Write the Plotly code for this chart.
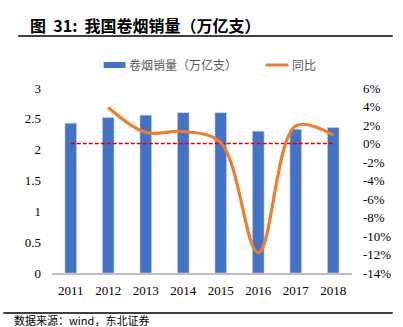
import plotly.graph_objects as go

years = ["2011", "2012", "2013", "2014", "2015", "2016", "2017", "2018"]
sales = [2.43, 2.52, 2.56, 2.60, 2.60, 2.30, 2.33, 2.36]
yoy_years = ["2012", "2013", "2014", "2015", "2016", "2017", "2018"]
yoy = [3.9, 1.2, 1.3, 0.1, -11.8, 1.9, 0.9]
zero_line = [0, 0, 0, 0, 0, 0, 0, 0]
left_ticks = [0, 0.5, 1, 1.5, 2, 2.5, 3]
left_labels = ["0", "0.5", "1", "1.5", "2", "2.5", "3"]
right_ticks = [-14, -12, -10, -8, -6, -4, -2, 0, 2, 4, 6]
right_labels = [f"{v}%" for v in right_ticks]

title = "图  31:  我国卷烟销量（万亿支）"
legend_bar = "卷烟销量（万亿支）"
legend_line = "同比"
source = "数据来源：wind，东北证券"

BLUE = "#4472C4"
ORANGE = "#ED7D31"
SERIF = "Liberation Serif, Times New Roman, serif"
CJK = "Noto Sans CJK SC"

fig = go.Figure()
fig.add_trace(go.Bar(x=years, y=sales, marker=dict(color=BLUE, line=dict(width=0.6, color="#c9d3e6")),
                     width=0.31, showlegend=False, yaxis="y"))
fig.add_trace(go.Scatter(x=years, y=zero_line, mode="lines", yaxis="y2", showlegend=False,
                         line=dict(color="#E00000", width=1.3, dash="4px,2px")))
fig.add_trace(go.Scatter(x=yoy_years, y=yoy, mode="lines", yaxis="y2", showlegend=False,
                         line=dict(color=ORANGE, width=3.2, shape="spline", smoothing=1.0)))

fig.update_layout(
    width=403, height=327,
    margin=dict(l=52, r=49, t=88, b=54),
    paper_bgcolor="white", plot_bgcolor="white",
    xaxis=dict(type="category", range=[-0.5, 7.5], showline=True, linecolor="#BFBFBF", linewidth=2,
               showgrid=False, ticks="", tickfont=dict(family=SERIF, size=13, color="#000"),
               ticklabelstandoff=4),
    yaxis=dict(range=[0, 3], tickvals=left_ticks, ticktext=left_labels, showgrid=False, zeroline=False,
               showline=False, ticks="", tickfont=dict(family=SERIF, size=13, color="#000"),
               ticklabelstandoff=10),
    yaxis2=dict(range=[-14, 6], overlaying="y", side="right", tickvals=right_ticks, ticktext=right_labels,
                showgrid=False, zeroline=False, showline=False, ticks="",
                tickfont=dict(family=SERIF, size=13, color="#000"), ticklabelstandoff=10),
    bargap=0.7,
)

shapes = [
    dict(type="line", xref="paper", yref="paper", x0=-34/302, x1=(395-52)/302,
         y0=(327-54-36)/185, y1=(327-54-36)/185, line=dict(color="#000", width=1.5)),
    dict(type="line", xref="paper", yref="paper", x0=(3-52)/302, x1=(395-52)/302,
         y0=(273-313)/185, y1=(273-313)/185, line=dict(color="#000", width=1.5)),
    dict(type="rect", xref="paper", yref="paper", x0=(104-52)/302, x1=(126-52)/302,
         y0=(273-68)/185, y1=(273-62)/185, fillcolor=BLUE, line=dict(width=0)),
    dict(type="line", xref="paper", yref="paper", x0=(267-52)/302, x1=(290-52)/302,
         y0=(273-65)/185, y1=(273-65)/185, line=dict(color=ORANGE, width=3)),
]
fig.update_layout(shapes=shapes)

annotations = [
    dict(text=f"<b>{title}</b>", xref="paper", yref="paper", x=(28-52)/302, y=(273-25)/185,
         xanchor="left", yanchor="middle", showarrow=False, font=dict(family=CJK, size=16, color="#000")),
    dict(text=legend_bar, xref="paper", yref="paper", x=(128-52)/302, y=(273-65)/185,
         xanchor="left", yanchor="middle", showarrow=False, font=dict(family=CJK, size=12, color="#595959")),
    dict(text=legend_line, xref="paper", yref="paper", x=(292-52)/302, y=(273-65)/185,
         xanchor="left", yanchor="middle", showarrow=False, font=dict(family=CJK, size=12, color="#595959")),
    dict(text=source, xref="paper", yref="paper", x=(12-52)/302, y=(273-320)/185,
         xanchor="left", yanchor="middle", showarrow=False, font=dict(family=CJK, size=11, color="#000")),
]
fig.update_layout(annotations=annotations)

fig.write_html("out.html")
